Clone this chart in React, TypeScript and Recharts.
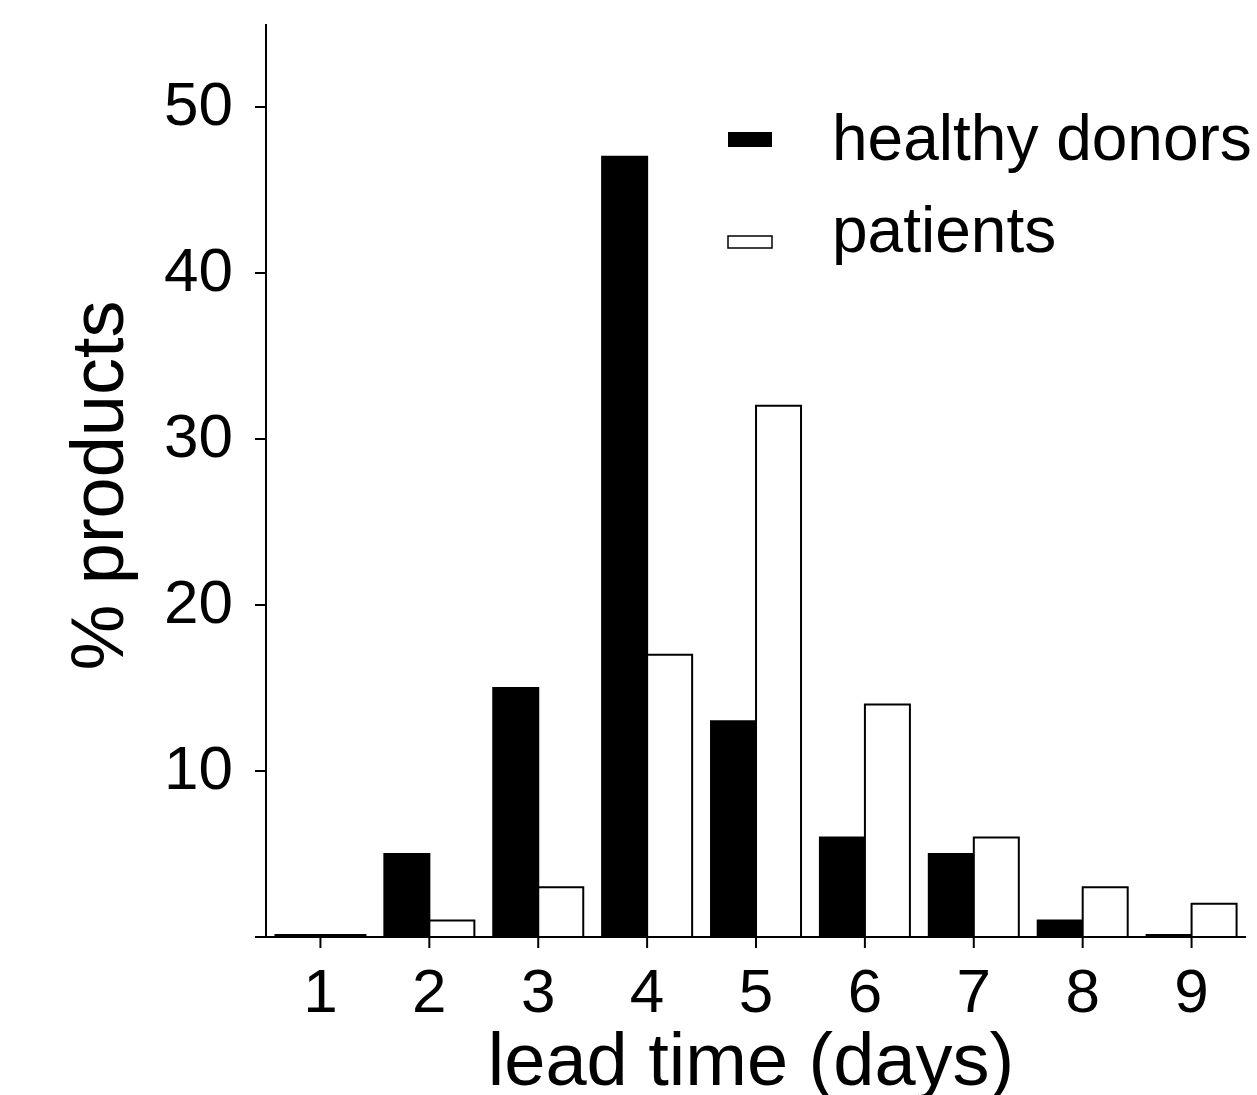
import React from "react";
import { BarChart, Bar, XAxis, YAxis, Legend, Label } from "recharts";

document.body.style.margin = "0";

const days = ["1", "2", "3", "4", "5", "6", "7", "8", "9"];
const healthyDonors = [0, 5, 15, 47, 13, 6, 5, 1, 0];
const patients = [0, 1, 3, 17, 32, 14, 6, 3, 2];
const yTicks = [0, 10, 20, 30, 40, 50];

const FONT = "'Liberation Sans', Arial, Helvetica, sans-serif";

const data = days.map((day, i) => ({
  day,
  healthy: healthyDonors[i],
  patients: patients[i],
}));

function YTick(props: any) {
  const { x, y, payload } = props;
  if (payload.value === 0) return null;
  return (
    <text
      x={x}
      y={y - 4}
      dy="0.355em"
      textAnchor="end"
      fontSize={62}
      fontFamily={FONT}
      fill="#000"
    >
      {payload.value}
    </text>
  );
}

function XTick(props: any) {
  const { x, y, payload } = props;
  return (
    <text
      x={x}
      y={y}
      dy="0.71em"
      textAnchor="middle"
      fontSize={62}
      fontFamily={FONT}
      fill="#000"
    >
      {payload.value}
    </text>
  );
}

// legend rows: swatch top, text baseline
const legendRows = [
  { swatchY: 32, textY: 60 },
  { swatchY: 135, textY: 152 },
];

function LegendBox(props: any) {
  const items = props.payload ?? [];
  return (
    <svg width={537} height={180} style={{ display: "block", overflow: "visible" }}>
      {items.map((item: any, i: number) => {
        const row = legendRows[i];
        const filled = item.dataKey === "healthy";
        return (
          <g key={item.value}>
            <rect
              x={8}
              y={row.swatchY + (filled ? 0 : 1)}
              width={44}
              height={filled ? 15 : 12}
              fill={filled ? "#000" : "#fff"}
              stroke="#000"
              strokeWidth={filled ? 0 : 1.5}
            />
            <text x={112} y={row.textY} fontSize={64} fontFamily={FONT} fill="#000">
              {item.value}
            </text>
          </g>
        );
      })}
    </svg>
  );
}

export default function App() {
  return (
    <div style={{ width: 1257, height: 1095, background: "#fff" }}>
      <BarChart
        width={1257}
        height={1095}
        data={data}
        margin={{ top: 24, right: 11, left: 0, bottom: 0 }}
        barCategoryGap="8.7%"
        barGap={0}
      >
        <XAxis
          dataKey="day"
          height={158}
          axisLine={{ stroke: "#000", strokeWidth: 2 }}
          tickLine={{ stroke: "#000", strokeWidth: 2 }}
          tickSize={11}
          tickMargin={20}
          tick={<XTick />}
          interval={0}
        >
          <Label
            content={(p: any) => {
              const vb = p.viewBox;
              return (
                <text
                  x={vb.x + vb.width / 2 - 5}
                  y={1085}
                  textAnchor="middle"
                  fontSize={74}
                  fontFamily={FONT}
                  fill="#000"
                >
                  lead time (days)
                </text>
              );
            }}
          />
        </XAxis>
        <YAxis
          width={266}
          domain={[0, 55]}
          ticks={yTicks}
          allowDataOverflow
          axisLine={{ stroke: "#000", strokeWidth: 2 }}
          tickLine={{ stroke: "#000", strokeWidth: 2 }}
          tickSize={11}
          tickMargin={22}
          tick={<YTick />}
        >
          <Label
            content={(p: any) => {
              const vb = p.viewBox;
              const cy = vb.y + vb.height / 2 + 5;
              return (
                <text
                  x={123}
                  y={cy}
                  transform={`rotate(-90, 123, ${cy})`}
                  textAnchor="middle"
                  fontSize={74}
                  fontFamily={FONT}
                  fill="#000"
                >
                  % products
                </text>
              );
            }}
          />
        </YAxis>
        <Legend
          content={<LegendBox />}
          wrapperStyle={{
            position: "absolute",
            left: 720,
            top: 100,
            width: 0,
            height: 0,
            overflow: "visible",
          }}
        />
        <Bar
          dataKey="healthy"
          name="healthy donors"
          fill="#000"
          stroke="#000"
          strokeWidth={2}
          minPointSize={2}
          isAnimationActive={false}
        />
        <Bar
          dataKey="patients"
          name="patients"
          fill="#fff"
          stroke="#000"
          strokeWidth={2}
          minPointSize={2}
          isAnimationActive={false}
        />
      </BarChart>
    </div>
  );
}
